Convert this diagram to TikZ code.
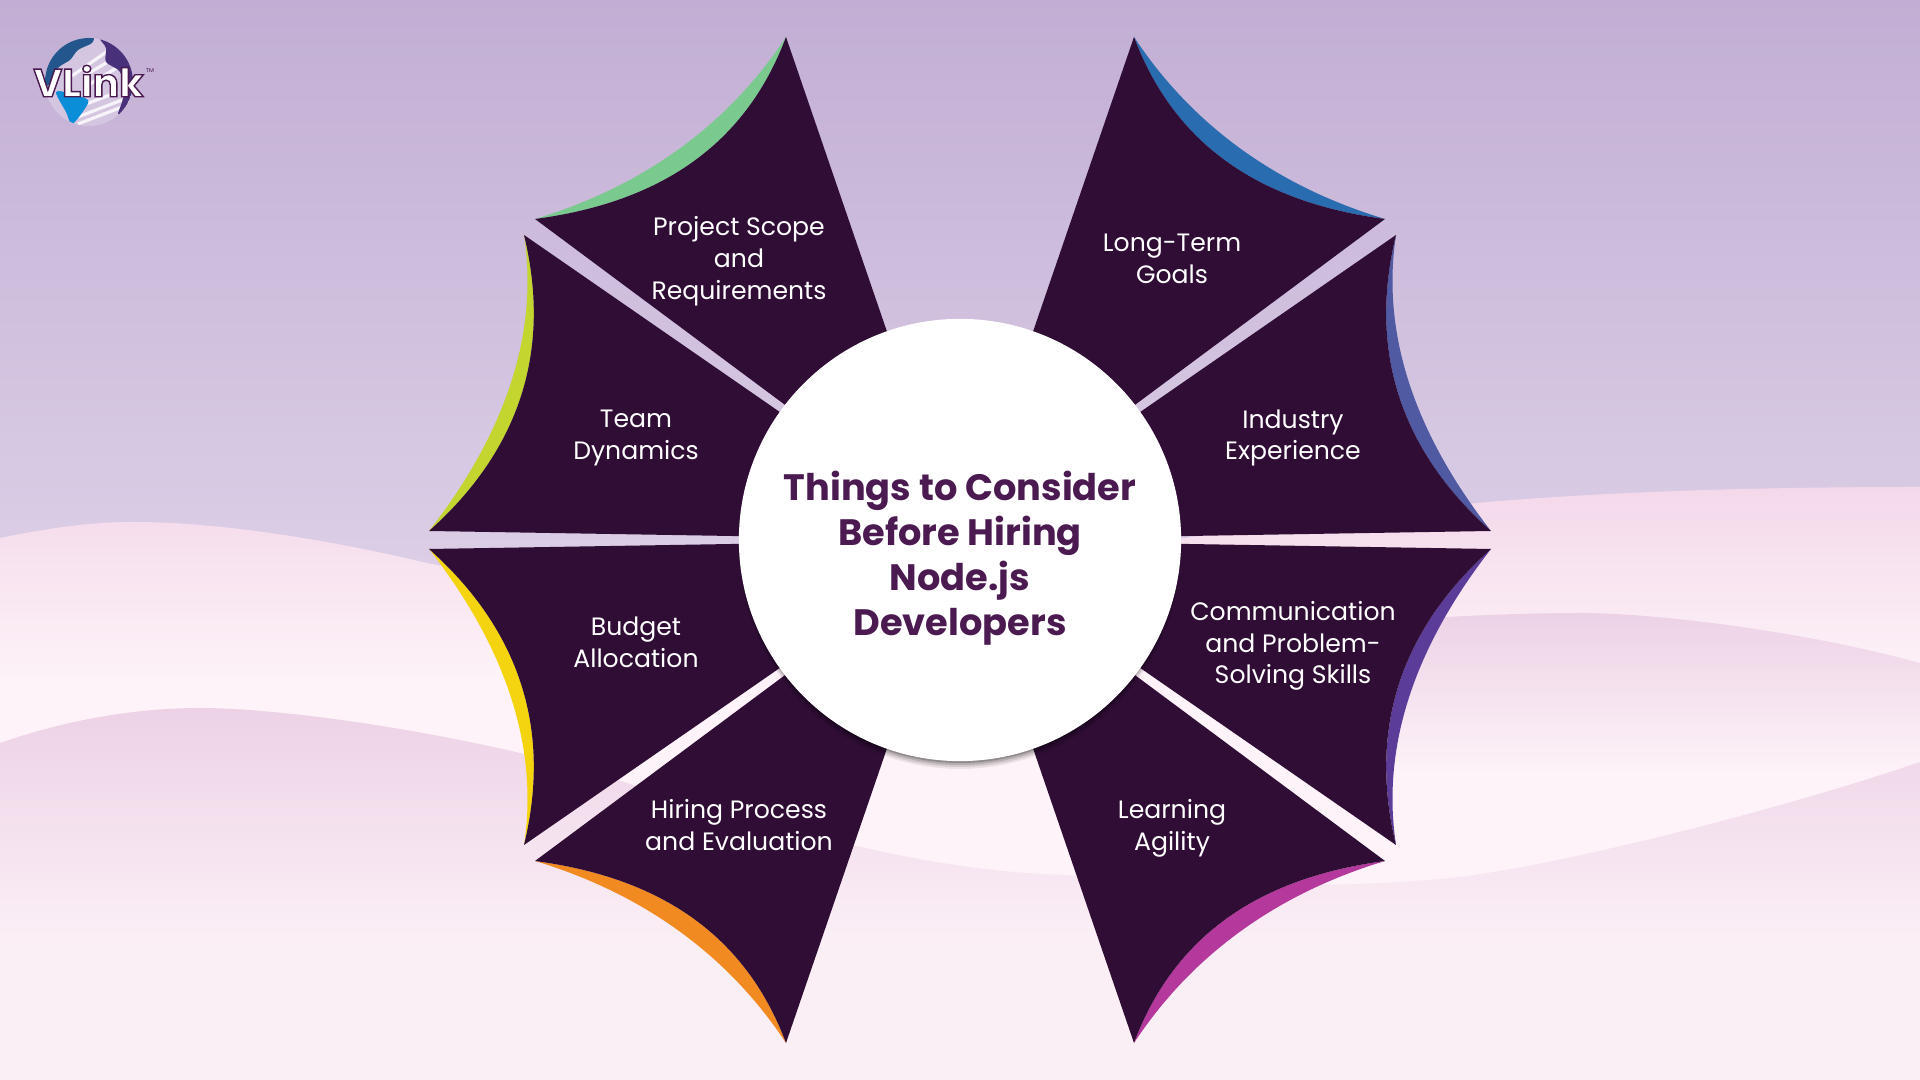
\documentclass[tikz,border=0pt]{standalone}
\usepackage{fontspec}
\setmainfont{Poppins}
\usepackage{tikz}
\usetikzlibrary{positioning}

\definecolor{skytop}{HTML}{C2AED4}
\definecolor{skylow}{HTML}{DDD0E7}
\definecolor{paper}{HTML}{FDF3F8}
\definecolor{waveone}{HTML}{F4D8EA}
\definecolor{wavetwo}{HTML}{EDD2E6}
\definecolor{wavelow}{HTML}{FBEFF6}
\definecolor{petaldark}{HTML}{2F0D35}
\definecolor{titleink}{HTML}{4A1A50}
\definecolor{bandgreen}{HTML}{7AC98F}
\definecolor{bandlime}{HTML}{C3D52F}
\definecolor{bandyellow}{HTML}{F4D40F}
\definecolor{bandorange}{HTML}{F28A22}
\definecolor{bandblue}{HTML}{2A6CB0}
\definecolor{bandslate}{HTML}{4F5AA3}
\definecolor{bandviolet}{HTML}{5B3C98}
\definecolor{bandpink}{HTML}{B5389C}

\tikzset{
  petallabel/.style={text=white,align=center,font=\fontsize{7.15}{9.05}\selectfont},
  titlelabel/.style={text=titleink,align=center,font=\fontsize{10.45}{12.8}\selectfont\bfseries},
  logoword/.style={font=\fontsize{11.2}{11.2}\selectfont\bfseries,inner sep=0pt},
  longpetal/.pic={
    \fill[#1] (-174,-503) .. controls (-245,-395) and (-345,-345) .. (-425,-321)
              .. controls (-320,-335) and (-220,-380) .. (-174,-503) -- cycle;
    \fill[petaldark] (-174,-503) .. controls (-220,-380) and (-320,-335) .. (-425,-321)
              -- (-160,-124) -- (-65,-185) -- cycle;
  },
  sidepetal/.pic={
    \fill[#1] (-436,-305) .. controls (-420,-200) and (-460,-100) .. (-531,-9)
              .. controls (-440,-90) and (-408,-190) .. (-436,-305) -- cycle;
    \fill[petaldark] (-436,-305) .. controls (-408,-190) and (-440,-90) .. (-531,-9)
              -- (-180,-3.2) -- (-160,-114) -- cycle;
  }
}

\begin{document}
\begin{tikzpicture}[x=0.01cm,y=-0.01cm]

  \useasboundingbox (0,0) rectangle (1920,1080);

  % background
  \shade[top color=skytop,bottom color=skylow] (0,0) rectangle (1920,600);
  \fill[paper] (0,600) rectangle (1920,1080);
  \shade[top color=waveone,bottom color=paper]
    (0,538) .. controls (50,528) and (90,522) .. (133,522)
    .. controls (220,522) and (330,540) .. (427,563)
    .. controls (700,620) and (1200,530) .. (1477,503)
    .. controls (1600,492) and (1750,487) .. (1920,487)
    -- (1920,680) -- (0,680) -- cycle;
  \shade[top color=wavetwo,bottom color=paper]
    (1300,630) .. controls (1400,618) and (1500,613) .. (1583,613)
    .. controls (1650,613) and (1800,630) .. (1920,663)
    -- (1920,773) -- (1300,773) -- cycle;
  \fill[wavelow] (0,940) rectangle (1920,1080);
  \shade[top color=wavetwo,bottom color=wavelow]
    (0,743) .. controls (60,722) and (130,708) .. (200,708)
    .. controls (270,708) and (400,725) .. (520,753)
    .. controls (700,800) and (880,870) .. (1065,875)
    .. controls (1200,885) and (1330,890) .. (1450,878)
    .. controls (1550,868) and (1780,810) .. (1920,762)
    -- (1920,941) -- (0,941) -- cycle;

  % petals
  \coordinate (hub) at (960,540);
  \pic at (hub) {longpetal=bandgreen};
  \pic at (hub) {sidepetal=bandlime};
  \pic[yscale=-1] at (hub) {sidepetal=bandyellow};
  \pic[yscale=-1] at (hub) {longpetal=bandorange};
  \pic[xscale=-1] at (hub) {longpetal=bandblue};
  \pic[xscale=-1] at (hub) {sidepetal=bandslate};
  \pic[xscale=-1,yscale=-1] at (hub) {sidepetal=bandviolet};
  \pic[xscale=-1,yscale=-1] at (hub) {longpetal=bandpink};

  % hub and its shadow
  \fill[black,opacity=.07] (960,548) circle (221);
  \fill[black,opacity=.10] (960,547) circle (220);
  \fill[black,opacity=.14] (960,546) circle (219);
  \fill[black,opacity=.20] (960,545) circle (218);
  \node[circle,fill=white,minimum size=4.42cm,inner sep=0pt] (hubdisc) at (hub) {};
  \node[titlelabel] (title) at (960,558) {Things to Consider\\Before Hiring\\Node.js\\Developers};

  % labels
  \node[petallabel] (scope)    at (739,261)  {Project Scope\\and\\Requirements};
  \node[petallabel] (dynamics) at (636,438)  {Team\\Dynamics};
  \node[petallabel] (budget)   at (636,642)  {Budget\\Allocation};
  \node[petallabel] (hiring)   at (739,825)  {Hiring Process\\and Evaluation};
  \node[petallabel] (goals)    at (1172,259) {Long-Term\\Goals};
  \node[petallabel] (industry) at (1293,438) {Industry\\Experience};
  \node[petallabel] (skills)   at (1293,646) {Communication\\and Problem-\\Solving Skills};
  \node[petallabel] (agility)  at (1172,828) {Learning\\Agility};

  % logo
  \begin{scope}
    \clip (89,82) circle (44);
    \fill[skytop!70!white] (45,38) rectangle (133,126);
    \draw[white!85!skytop,line width=.9pt] (70,120) -- (122,100) (78,124) -- (122,107) (70,110) -- (118,92)
      (72,76) -- (112,48) (84,76) -- (118,56) (90,84) -- (120,66);
    \fill[bandblue!80!black] plot[smooth cycle] coordinates {(44,84) (50,60) (68,42) (92,36) (92,43) (78,50) (70,60) (58,68) (50,84)};
    \fill[bandviolet!80!black] plot[smooth cycle] coordinates {(100,38) (122,46) (135,80) (126,106) (118,114) (124,94) (120,72) (106,62) (106,48)};
    \fill[cyan!75!blue] plot[smooth cycle] coordinates {(56,92) (72,94) (88,100) (84,110) (72,124) (66,112)};
  \end{scope}
  \node[logoword,text=white] (logotext) at (88.5,81) {\special{pdf:code q 2 Tr 0.4 w 0.29 0.10 0.31 RG}VLink\special{pdf:code Q}};
  \node[text=titleink,font=\fontsize{1.6}{2}\selectfont,inner sep=0pt] (logomark) at (150,71) {TM};

\end{tikzpicture}
\end{document}
